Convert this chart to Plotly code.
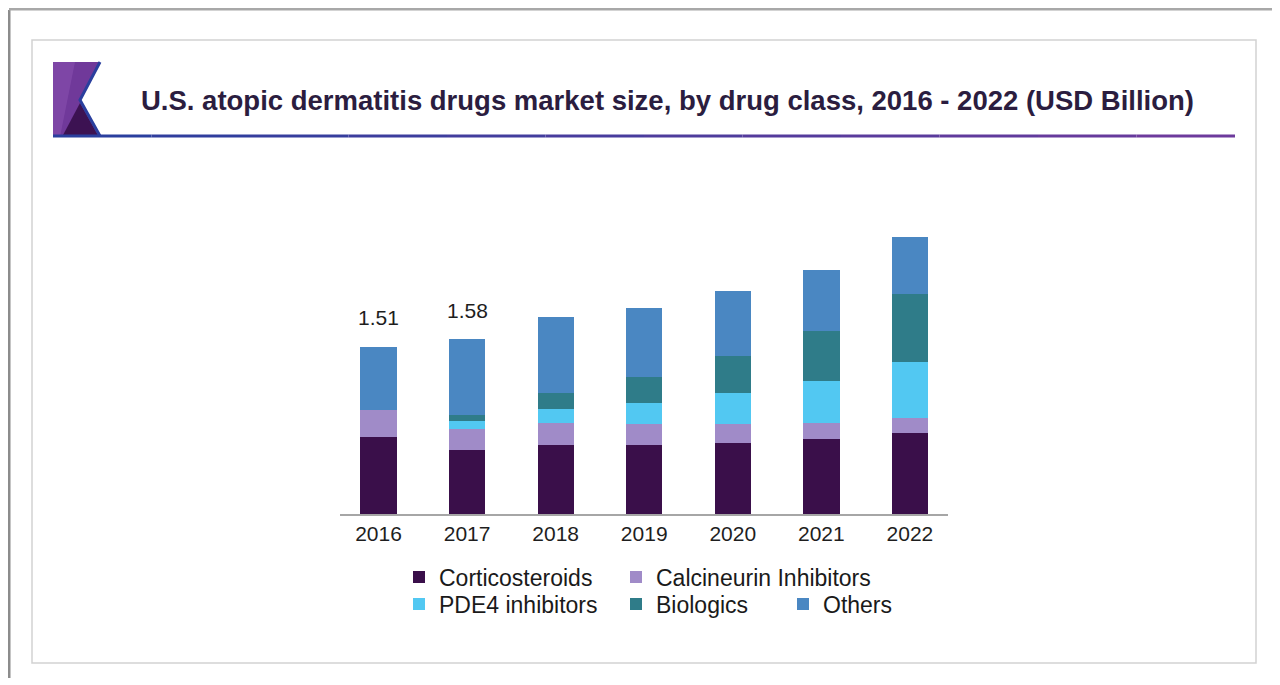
import plotly.graph_objects as go

W, H = 1280, 685
OFF = 8  # page body margin in the browser

years = ["2016", "2017", "2018", "2019", "2020", "2021", "2022"]
corticosteroids = [0.70, 0.58, 0.62, 0.62, 0.64, 0.68, 0.73]
calcineurin = [0.24, 0.19, 0.20, 0.19, 0.17, 0.14, 0.14]
pde4 = [0.00, 0.07, 0.13, 0.19, 0.28, 0.38, 0.50]
biologics = [0.00, 0.05, 0.14, 0.24, 0.34, 0.45, 0.62]
others = [0.57, 0.69, 0.69, 0.62, 0.58, 0.55, 0.51]
total_labels = {"2016": 1.51, "2017": 1.58}

series_names = ["Corticosteroids", "Calcineurin Inhibitors", "PDE4 inhibitors", "Biologics", "Others"]
series_values = [corticosteroids, calcineurin, pde4, biologics, others]
series_colors = ["#3a0f4a", "#a08bc8", "#52c8f2", "#2f7c89", "#4a87c2"]

FONT = "Liberation Sans, Arial, sans-serif"


def px(x):
    return (x - OFF) / W


def py(y):
    return 1 - (y - OFF) / H


# legend positions (symbol centre x in page pixels, row centre y)
legend_pos = [(421, 577), (638, 577), (421, 604), (638, 604), (805, 604)]

fig = go.Figure()
legend_layouts = {}
legend_font = dict(size=23, color="#1a1a1a", family=FONT)
for i, (name, vals, color) in enumerate(zip(series_names, series_values, series_colors)):
    key = "legend" if i == 0 else f"legend{i + 1}"
    fig.add_trace(go.Bar(
        x=years, y=vals, name=name, marker=dict(color=color, line=dict(width=0)),
        legend=key, hoverinfo="x+y+name",
    ))
    sx, sy = legend_pos[i]
    legend_layouts[key] = dict(orientation="h", x=px(sx - 22), y=py(sy), xanchor="left", yanchor="middle",
                               font=legend_font, bgcolor="rgba(0,0,0,0)", itemwidth=30)

annotations = []
for yr, val in total_labels.items():
    annotations.append(dict(
        x=years.index(yr), y=val, xref="x", yref="y", text=f"{val:.2f}", showarrow=False,
        yanchor="middle", yshift=29, font=dict(size=21, color="#1e1e1e", family=FONT),
    ))

annotations.append(dict(
    x=px(139), y=py(100), xref="paper", yref="paper", xanchor="left", yanchor="middle",
    text="<b>U.S. atopic dermatitis drugs market size, by drug class, 2016 - 2022 (USD Billion)</b>",
    showarrow=False, font=dict(size=27.5, color="#2b1d3f", family=FONT),
))


def path(points):
    return "M " + " L ".join(f"{px(x)},{py(y)}" for x, y in points) + " Z"


def openpath(points):
    return "M " + " L ".join(f"{px(x)},{py(y)}" for x, y in points)


shapes = []
# outer frame shadow lines
shapes.append(dict(type="line", xref="paper", yref="paper", x0=px(9), y0=py(10), x1=px(9), y1=py(678),
                   line=dict(color="#8c8c8c", width=3)))
shapes.append(dict(type="line", xref="paper", yref="paper", x0=px(9), y0=py(9), x1=px(1272), y1=py(9),
                   line=dict(color="#a8a8a8", width=3)))
# inner box
shapes.append(dict(type="rect", xref="paper", yref="paper", x0=px(32), y0=py(40), x1=px(1256), y1=py(663),
                   line=dict(color="#d2d2d2", width=1.5), fillcolor="rgba(0,0,0,0)"))
# logo
shapes.append(dict(type="path", xref="paper", yref="paper",
                   path=path([(53, 62), (100, 62), (80, 100), (100, 137), (53, 137)]),
                   fillcolor="#70399a", line=dict(width=0)))
shapes.append(dict(type="path", xref="paper", yref="paper",
                   path=path([(53, 62), (75, 62), (60, 137), (53, 137)]),
                   fillcolor="#7e46a6", line=dict(width=0)))
shapes.append(dict(type="path", xref="paper", yref="paper",
                   path=path([(62, 137), (80, 103), (99, 137)]),
                   fillcolor="#3c1252", line=dict(width=0)))
shapes.append(dict(type="path", xref="paper", yref="paper",
                   path=openpath([(100, 62), (80, 100), (100, 136)]),
                   line=dict(color="#2a3f9e", width=3)))
# underline gradient blue -> purple
n = 12
x_start, x_end = 53, 1235
c0 = (0x2a, 0x3f, 0x9e)
c1 = (0x6d, 0x3a, 0x9c)
for i in range(n):
    t = i / (n - 1)
    c = tuple(int(c0[k] + (c1[k] - c0[k]) * t) for k in range(3))
    xa = x_start + (x_end - x_start) * i / n
    xb = x_start + (x_end - x_start) * (i + 1) / n
    shapes.append(dict(type="line", xref="paper", yref="paper", x0=px(xa), y0=py(136), x1=px(xb), y1=py(136),
                       line=dict(color="rgb(%d,%d,%d)" % c, width=3)))

fig.update_layout(
    width=W, height=H,
    margin=dict(l=0, r=0, t=0, b=0),
    paper_bgcolor="white", plot_bgcolor="white",
    barmode="stack", bargap=0.59,
    showlegend=True,
    xaxis=dict(domain=[px(340), px(948)], range=[-0.435, 6.43], type="category",
               showline=True, linecolor="#a6a6a6", linewidth=2, showgrid=False, ticks="",
               tickfont=dict(size=21, color="#1e1e1e", family=FONT), fixedrange=True),
    yaxis=dict(domain=[py(514), py(204)], range=[0, 2.8], visible=False, fixedrange=True),
    annotations=annotations,
    shapes=shapes,
    **legend_layouts,
)

fig.write_html("out.html")
